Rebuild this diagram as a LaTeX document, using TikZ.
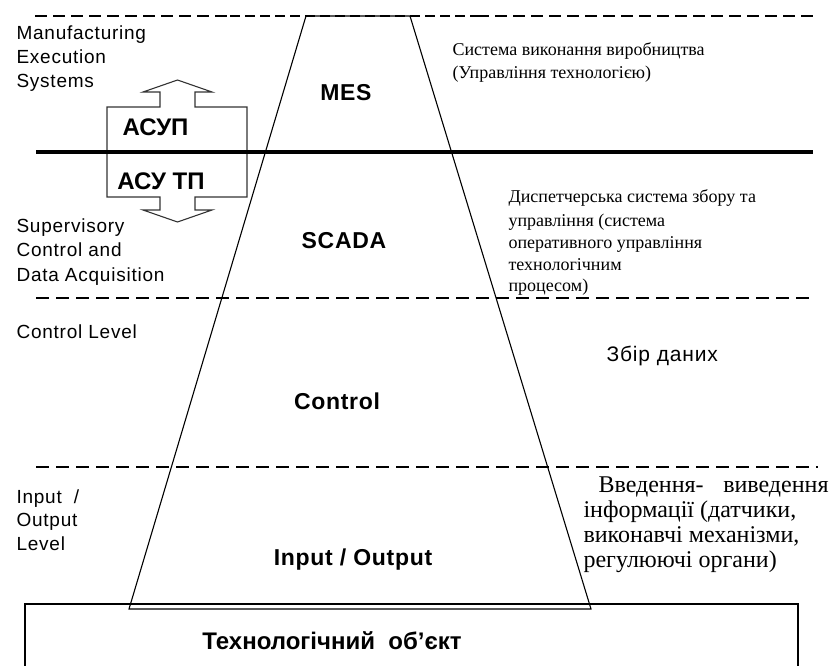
\documentclass[tikz,border=0pt]{standalone}
\usepackage{fontspec}
\setmainfont{Liberation Serif}
\setsansfont{Liberation Sans}
\newfontfamily\lvlfont[LetterSpace=4]{Liberation Sans}
\newfontfamily\layerfont[LetterSpace=3]{Liberation Sans}
\usepackage{tikz}
\usetikzlibrary{positioning}

\tikzset{
	lvl/.style={anchor=base west,inner sep=0pt,font=\lvlfont\fontsize{19}{20}\selectfont},
	descr/.style={anchor=base west,inner sep=0pt,font=\fontsize{18}{20}\selectfont},
	bigdescr/.style={anchor=base west,inner sep=0pt,font=\fontsize{24}{26}\selectfont},
	layer/.style={anchor=base,inner sep=0pt,font=\layerfont\bfseries\fontsize{23}{24}\selectfont},
	asu/.style={anchor=base,inner sep=0pt,font=\sffamily\bfseries\fontsize{24}{26}\selectfont},
	thickdash/.style={line width=2.6pt,dash pattern=on 12pt off 6pt},
	thindash/.style={line width=1.2pt,dash pattern=on 10pt off 5pt},
	leveldash/.style={line width=2pt,dash pattern=on 13pt off 7pt}
}

\begin{document}
\begin{tikzpicture}[x=1pt,y=-1pt,line width=1.1pt]
			\useasboundingbox (0,0) rectangle (831,666);
			\draw[thickdash] (35,16)--(230,16);
			\draw[thindash] (230,16)--(477,16);
			\draw[thickdash] (477,16)--(813,16);
			\draw[leveldash] (36,298)--(814,298);
			\draw[leveldash] (36,467)--(818,467);
			\draw (25,667)--(25,604)--(798,604)--(798,667);
			\draw (306,16)--(410,16)--(591,609)--(129,609)--cycle;
			\draw[black!80] (177.5,80)--(212,92)--(195,92)--(195,107)--(247,107)--(247,197)--(195,197)--(195,210)
				--(212,210)--(177.5,222)--(143,210)--(160,210)--(160,197)--(107,197)--(107,107)--(160,107)
				--(160,92)--(143,92)--cycle;
			\draw[line width=4pt] (36,152)--(813,152);
			\node[asu] (asup) at (155.5,136) {АСУП};
			\node[asu] (asutp) at (161,190) {АСУ ТП};
			\node[layer] (mes) at (346,101) {MES};
			\node[layer] (scada) at (344,249) {SCADA};
			\node[layer] (ctrl) at (337,409) {Control};
			\node[layer] (io) at (353,565) {Input / Output};
			\node[asu] (obj) at (332,649) {Технологічний\ \ об’єкт};
			\node[lvl] (mfg1) at (16,40) {Manufacturing};
			\node[lvl] (mfg2) at (16,64) {Execution};
			\node[lvl] (mfg3) at (16,88) {Systems};
			\node[lvl] (sup1) at (16,233) {Supervisory};
			\node[lvl] (sup2) at (16,257) {Control and};
			\node[lvl] (sup3) at (16,281) {Data Acquisition};
			\node[lvl] (cl) at (16,338) {Control Level};
			\node[lvl] (inp1) at (16,503) {Input\ \ /};
			\node[lvl] (inp2) at (16,526) {Output};
			\node[lvl] (inp3) at (16,550) {Level};
			\node[descr] (mesd1) at (452,56) {Система виконання виробництва};
			\node[descr] (mesd2) at (452,79) {(Управління технологією)};
			\node[descr] (scd1) at (508,203) {Диспетчерська система збору та};
			\node[descr] (scd2) at (508,226) {управління (система};
			\node[descr] (scd3) at (508,248) {оперативного управління};
			\node[descr] (scd4) at (508,270) {технологічним};
			\node[descr] (scd5) at (508,291) {процесом)};
			\node[lvl,font=\lvlfont\fontsize{21}{22}\selectfont] (ctd) at (606,361) {Збір даних};
			\node[bigdescr] (iod1) at (598,492) {\hbox to 230pt{Введення-\hfill виведення}};
			\node[bigdescr] (iod2) at (583,517) {інформації (датчики,};
			\node[bigdescr] (iod3) at (583,542) {виконавчі механізми,};
			\node[bigdescr] (iod4) at (583,567) {регулюючі органи)};
\end{tikzpicture}
\end{document}
